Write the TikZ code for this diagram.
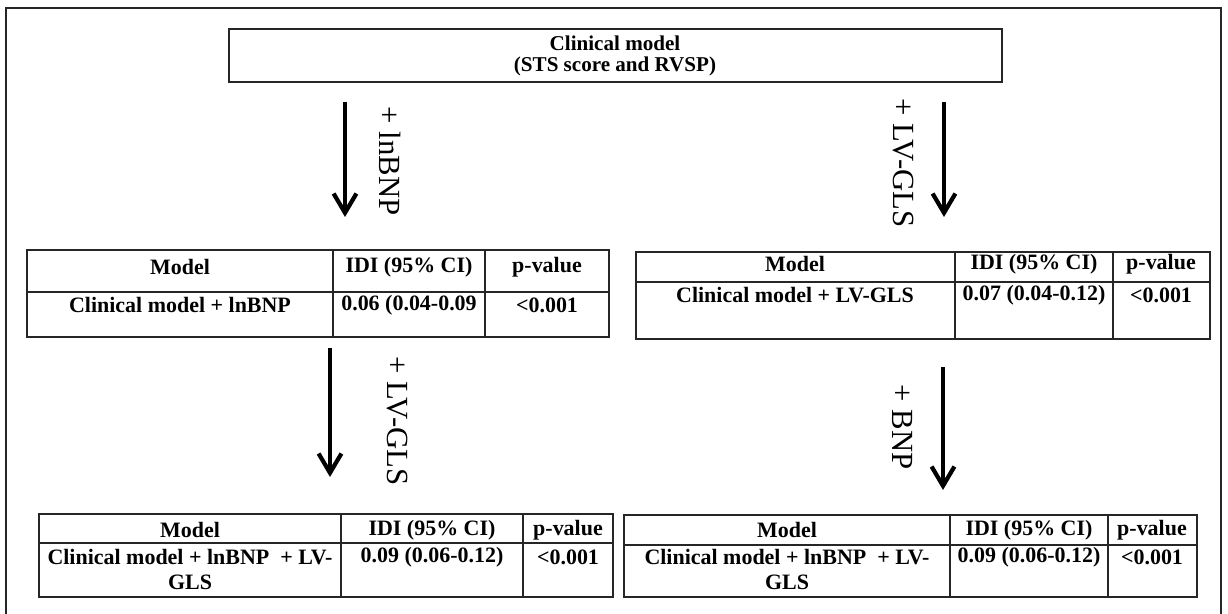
\documentclass[tikz,border=0pt]{standalone}
\usepackage{fontspec}
\setmainfont{Liberation Serif}
\usetikzlibrary{arrows.meta}
\tikzset{
  frameline/.style={line width=1.1pt, black!85},
  tabline/.style={line width=1pt, black!85},
  celltext/.style={font=\fontsize{12.5}{14}\selectfont\bfseries, inner sep=0pt, align=center},
  addlabel/.style={font=\fontsize{17.5}{20}\selectfont, rotate=-90, inner sep=0pt},
  addarrow/.style={line width=2.4pt, -{Straight Barb[length=11pt,width=13pt]}}
}
\begin{document}
\begin{tikzpicture}[x=0.02cm, y=-0.02cm]
\useasboundingbox (0,0) rectangle (1228,614);

% outer frame and clinical model box
\draw[frameline] (6,630) -- (6,8) -- (1221,8) -- (1221,630);
\draw[frameline] (229,29) rectangle (1002,82);
\node[celltext, font=\fontsize{12}{12}\selectfont\bfseries] (clin) at (615,56) {Clinical model\\(STS score and RVSP)};

% arrows
\coordinate (a1s) at (345,102); \coordinate (a1e) at (345,217);
\coordinate (a2s) at (944,102); \coordinate (a2e) at (944,217);
\coordinate (a3s) at (330,348); \coordinate (a3e) at (330,477);
\coordinate (a4s) at (943,367); \coordinate (a4e) at (943,490);
\draw[addarrow] (a1s) -- (a1e);
\draw[addarrow] (a2s) -- (a2e);
\draw[addarrow] (a3s) -- (a3e);
\draw[addarrow] (a4s) -- (a4e);
\node[addlabel] (lab1) at (390,161) {+ lnBNP};
\node[addlabel] (lab2) at (903,163) {+ LV-GLS};
\node[addlabel] (lab3) at (397,421) {+ LV-GLS};
\node[addlabel] (lab4) at (903,427) {+ BNP};

% table 1
\draw[tabline] (27,250) rectangle (609,337);
\draw[tabline] (27,292) -- (609,292) (333,250) -- (333,337) (485,250) -- (485,337);
\node[celltext] (t1h1) at (180,267) {Model};
\node[celltext] (t1h2) at (409,267) {IDI (95\% CI)};
\node[celltext] (t1h3) at (547,267) {p-value};
\node[celltext] (t1r1) at (180,305) {Clinical model + lnBNP};
\node[celltext] (t1r2) at (409,305) {0.06 (0.04-0.09};
\node[celltext] (t1r3) at (547,305) {<0.001};

% table 2
\draw[tabline] (636,252) rectangle (1210,339);
\draw[tabline] (636,282) -- (1210,282) (955,252) -- (955,339) (1113,252) -- (1113,339);
\node[celltext] (t2h1) at (795,264) {Model};
\node[celltext] (t2h2) at (1034,264) {IDI (95\% CI)};
\node[celltext] (t2h3) at (1161,264) {p-value};
\node[celltext] (t2r1) at (795,295) {Clinical model + LV-GLS};
\node[celltext] (t2r2) at (1034,295) {0.07 (0.04-0.12)};
\node[celltext] (t2r3) at (1161,295) {<0.001};

% table 3
\draw[tabline] (39,514) rectangle (613,597);
\draw[tabline] (39,543) -- (613,543) (341,514) -- (341,597) (523,514) -- (523,597);
\node[celltext] (t3h1) at (190,530) {Model};
\node[celltext] (t3h2) at (432,530) {IDI (95\% CI)};
\node[celltext] (t3h3) at (568,530) {p-value};
\node[celltext, anchor=north] (t3r1) at (190,549) {Clinical model + lnBNP \ + LV-\\GLS};
\node[celltext] (t3r2) at (432,557) {0.09 (0.06-0.12)};
\node[celltext] (t3r3) at (568,557) {<0.001};

% table 4
\draw[tabline] (624,515) rectangle (1197,597);
\draw[tabline] (624,545) -- (1197,545) (950,515) -- (950,597) (1108,515) -- (1108,597);
\node[celltext] (t4h1) at (787,530) {Model};
\node[celltext] (t4h2) at (1029,530) {IDI (95\% CI)};
\node[celltext] (t4h3) at (1152,530) {p-value};
\node[celltext, anchor=north] (t4r1) at (787,549) {Clinical model + lnBNP \ + LV-\\GLS};
\node[celltext] (t4r2) at (1029,557) {0.09 (0.06-0.12)};
\node[celltext] (t4r3) at (1152,557) {<0.001};
\end{tikzpicture}
\end{document}
